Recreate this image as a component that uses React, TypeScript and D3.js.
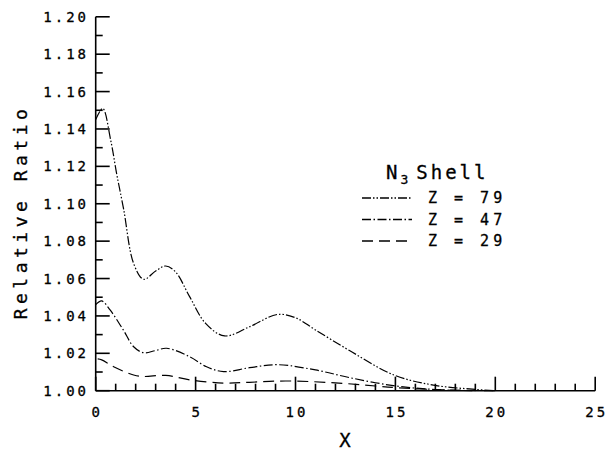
import React from "react";
import * as d3 from "d3";

const xTicks = [0, 5, 10, 15, 20, 25];
const yTicks = [1.0, 1.02, 1.04, 1.06, 1.08, 1.1, 1.12, 1.14, 1.16, 1.18, 1.2];

const x79 = [0, 0.35, 0.75, 1.05, 1.4, 1.9, 2.4, 3.0, 3.5, 4.0, 4.7, 5.5, 6.45, 7.7, 9.1, 10.0, 11.0, 12.7, 14.9, 16.9, 19.0, 20.0];
const v79 = [1.145, 1.151, 1.134, 1.116, 1.097, 1.068, 1.0596, 1.064, 1.0667, 1.0635, 1.0503, 1.036, 1.0293, 1.0342, 1.0408, 1.039, 1.0325, 1.0215, 1.0085, 1.003, 1.0007, 1.0];

const x47 = [0, 0.3, 0.72, 1.38, 1.9, 2.4, 3.0, 3.55, 4.7, 5.55, 6.4, 7.7, 9.1, 11.0, 12.7, 14.9, 17, 19];
const v47 = [1.046, 1.048, 1.0432, 1.0325, 1.0235, 1.0203, 1.0215, 1.0227, 1.0182, 1.0128, 1.0102, 1.0123, 1.0139, 1.0111, 1.007, 1.0027, 1.0006, 1.0];

const x29 = [0.1, 0.3, 0.9, 1.9, 2.4, 3.5, 4.7, 6.4, 7.7, 9.5, 12, 14, 15.2, 17, 18.5, 20];
const v29 = [1.017, 1.0165, 1.0128, 1.0084, 1.0076, 1.0082, 1.0058, 1.0041, 1.0045, 1.0052, 1.0042, 1.0025, 1.0015, 1.0006, 1.0002, 1.0];

const seriesLabels = ["Z = 79", "Z = 47", "Z = 29"];
const dashes = ["9 2 1.5 2 1.5 2", "9 2.5 1.5 2.5", "11 6"];

const FONT = "'DejaVu Sans Mono', monospace";

export default function App() {
  const W = 609, H = 451;
  const xs = d3.scaleLinear().domain([0, 25]).range([95.7, 595.2]);
  const ys = d3.scaleLinear().domain([1.0, 1.2]).range([390.7, 16.8]);
  const line = d3
    .line<[number, number]>()
    .x((d) => xs(d[0]))
    .y((d) => ys(d[1]))
    .curve(d3.curveCatmullRom.alpha(0.5));

  const series = [
    x79.map((x, i) => [x, v79[i]] as [number, number]),
    x47.map((x, i) => [x, v47[i]] as [number, number]),
    x29.map((x, i) => [x, v29[i]] as [number, number]),
  ];

  const xMinor = d3.range(0, 26, 1);
  const yMinor = d3.range(0, 21, 1).map((i) => 1 + i * 0.01);
  const textStroke = { stroke: "#000", strokeWidth: 0.3 };

  return (
    <svg width={W} height={H} style={{ position: "absolute", left: 0, top: 0, background: "#fff" }}>
      <g stroke="#000" strokeWidth={1.6} fill="none">
        <line x1={xs(0)} x2={xs(0)} y1={ys(1.2)} y2={ys(1.0)} />
        <line x1={xs(0)} x2={xs(25)} y1={ys(1.0)} y2={ys(1.0)} />
        {xMinor.map((t) => (
          <line key={"xt" + t} x1={xs(t)} x2={xs(t)} y1={ys(1.0)} y2={ys(1.0) - (t % 5 === 0 ? 14 : 7)} />
        ))}
        {yMinor.map((t, i) => (
          <line key={"yt" + i} x1={xs(0)} x2={xs(0) + (i % 2 === 0 ? 14 : 7)} y1={ys(t)} y2={ys(t)} />
        ))}
      </g>
      <g fontFamily={FONT} fontSize={14} fill="#000" {...textStroke}>
        {yTicks.map((t) => (
          <text key={"yl" + t} x={89} y={ys(t) + 5} textAnchor="end" letterSpacing={3}>
            {t.toFixed(2)}
          </text>
        ))}
        {xTicks.map((t) => (
          <text key={"xl" + t} x={xs(t) + 1.5} y={417} textAnchor="middle" letterSpacing={3}>
            {t}
          </text>
        ))}
      </g>
      <text x={345} y={447} textAnchor="middle" fontFamily={FONT} fontSize={19} {...textStroke}>
        X
      </text>
      <text
        transform={`translate(27,212) rotate(-90)`}
        textAnchor="middle"
        fontFamily={FONT}
        fontSize={18}
        letterSpacing={4.5}
        {...textStroke}
      >
        Relative Ratio
      </text>
      <text x={386} y={179} fontFamily={FONT} fontSize={19} letterSpacing={3} {...textStroke}>
        N
        <tspan fontSize={13} dy={5}>3</tspan>
        <tspan dy={-5} dx={5}>Shell</tspan>
      </text>
      <g fill="none" stroke="#000" strokeWidth={1.2}>
        {series.map((s, i) => (
          <path key={"s" + i} d={line(s) || ""} strokeDasharray={dashes[i]} />
        ))}
      </g>
      {seriesLabels.map((lab, i) => {
        const yy = 198 + i * 21.5;
        return (
          <g key={"lg" + i}>
            <line x1={362} x2={412} y1={yy} y2={yy} stroke="#000" strokeWidth={1.3} strokeDasharray={dashes[i]} />
            <text x={428} y={yy + 5} fontFamily={FONT} fontSize={15} letterSpacing={4} {...textStroke}>
              {lab}
            </text>
          </g>
        );
      })}
    </svg>
  );
}
